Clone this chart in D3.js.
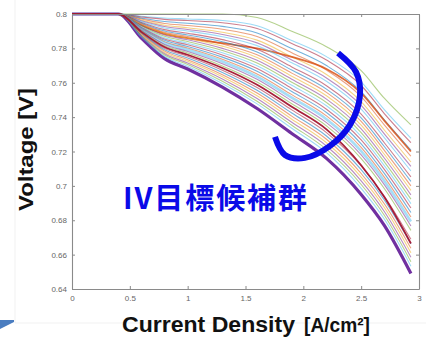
<!DOCTYPE html>
<html>
<head>
<meta charset="utf-8">
<script src="https://cdn.jsdelivr.net/npm/d3@7"></script>
<style>
  html, body { margin: 0; padding: 0; background: #fff; }
  svg { display: block; }
</style>
</head>
<body>
<div id="chart"></div>
<script>
// current density grid [A/cm2] shared by every IV curve
const currentDensity = [0, 0.4, 0.6, 0.8, 1.0, 1.3, 1.6, 1.9, 2.2, 2.5, 2.7, 2.93];

// voltages [V], top curve first, bottom (purple) curve last
const voltageCurves = [
  [0.8, 0.8, 0.8,    0.8,    0.8,    0.8,    0.798,  0.790,  0.781,  0.767,  0.751,  0.7355],
  [0.8, 0.8, 0.7987, 0.7977, 0.7971, 0.7962, 0.7932, 0.7846, 0.7752, 0.7605, 0.7443, 0.7277],
  [0.8, 0.8, 0.7983, 0.7969, 0.7962, 0.7949, 0.7916, 0.7829, 0.7732, 0.7584, 0.7421, 0.7251],
  [0.8, 0.8, 0.7976, 0.7956, 0.7946, 0.7928, 0.7890, 0.7799, 0.7700, 0.7548, 0.7384, 0.7208],
  [0.8, 0.8, 0.7971, 0.7945, 0.7933, 0.7911, 0.7869, 0.7775, 0.7674, 0.7519, 0.7355, 0.7173],
  [0.8, 0.8, 0.7965, 0.7935, 0.7920, 0.7894, 0.7848, 0.7751, 0.7648, 0.7490, 0.7325, 0.7139],
  [0.8, 0.8, 0.7961, 0.7927, 0.7910, 0.7881, 0.7832, 0.7733, 0.7628, 0.7468, 0.7303, 0.7113],
  [0.8, 0.8, 0.7935, 0.7885, 0.7860, 0.7830, 0.7800, 0.7750, 0.7680, 0.7540, 0.7380, 0.7200],
  [0.8, 0.8, 0.7957, 0.7919, 0.7901, 0.7868, 0.7816, 0.7716, 0.7609, 0.7447, 0.7281, 0.7087],
  [0.8, 0.8, 0.7951, 0.7909, 0.7888, 0.7851, 0.7795, 0.7692, 0.7583, 0.7418, 0.7251, 0.7052],
  [0.8, 0.8, 0.7947, 0.7901, 0.7878, 0.7839, 0.7779, 0.7674, 0.7563, 0.7396, 0.7229, 0.7026],
  [0.8, 0.8, 0.7943, 0.7893, 0.7869, 0.7826, 0.7763, 0.7656, 0.7544, 0.7375, 0.7207, 0.7000],
  [0.8, 0.8, 0.7938, 0.7886, 0.7859, 0.7813, 0.7747, 0.7638, 0.7524, 0.7353, 0.7184, 0.6974],
  [0.8, 0.8, 0.7934, 0.7878, 0.7850, 0.7800, 0.7731, 0.7620, 0.7505, 0.7332, 0.7162, 0.6948],
  [0.8, 0.8, 0.7930, 0.7870, 0.7840, 0.7788, 0.7715, 0.7603, 0.7485, 0.7310, 0.7140, 0.6923],
  [0.8, 0.8, 0.7926, 0.7862, 0.7830, 0.7775, 0.7699, 0.7585, 0.7466, 0.7288, 0.7118, 0.6897],
  [0.8, 0.8, 0.7922, 0.7854, 0.7821, 0.7762, 0.7683, 0.7567, 0.7446, 0.7267, 0.7096, 0.6871],
  [0.8, 0.8, 0.7917, 0.7847, 0.7811, 0.7749, 0.7667, 0.7549, 0.7427, 0.7245, 0.7073, 0.6845],
  [0.8, 0.8, 0.7913, 0.7839, 0.7802, 0.7737, 0.7651, 0.7531, 0.7407, 0.7224, 0.7051, 0.6819],
  [0.8, 0.8, 0.7909, 0.7831, 0.7792, 0.7724, 0.7636, 0.7513, 0.7388, 0.7202, 0.7029, 0.6793],
  [0.8, 0.8, 0.7905, 0.7823, 0.7782, 0.7711, 0.7620, 0.7495, 0.7368, 0.7180, 0.7007, 0.6767],
  [0.8, 0.8, 0.7901, 0.7815, 0.7773, 0.7698, 0.7604, 0.7478, 0.7349, 0.7159, 0.6985, 0.6741],
  [0.8, 0.8, 0.7896, 0.7808, 0.7763, 0.7686, 0.7588, 0.7460, 0.7329, 0.7120, 0.6935, 0.6665],
  [0.8, 0.8, 0.7892, 0.7800, 0.7754, 0.7673, 0.7572, 0.7442, 0.7310, 0.7116, 0.6940, 0.6689],
  [0.8, 0.8, 0.7888, 0.7792, 0.7744, 0.7660, 0.7556, 0.7424, 0.7290, 0.7094, 0.6918, 0.6663],
  [0.8, 0.8, 0.7884, 0.7784, 0.7734, 0.7647, 0.7540, 0.7406, 0.7271, 0.7072, 0.6896, 0.6637],
  [0.8, 0.8, 0.7880, 0.7776, 0.7725, 0.7635, 0.7524, 0.7388, 0.7251, 0.7051, 0.6874, 0.6611],
  [0.8, 0.8, 0.7875, 0.7769, 0.7715, 0.7622, 0.7508, 0.7370, 0.7232, 0.7029, 0.6851, 0.6585],
  [0.8, 0.8, 0.7871, 0.7761, 0.7706, 0.7609, 0.7492, 0.7353, 0.7212, 0.7008, 0.6829, 0.6559],
  [0.8, 0.8, 0.7867, 0.7753, 0.7696, 0.7596, 0.7477, 0.7335, 0.7193, 0.6986, 0.6807, 0.6533],
  [0.8, 0.8, 0.786,  0.774,  0.768,  0.7575, 0.745,  0.7305, 0.716,  0.695,  0.677,  0.649],
];

const xTicks = [0, 0.5, 1, 1.5, 2, 2.5, 3];
const xTickLabels = ['0', '0.5', '1', '1.5', '2', '2.5', '3'];
const yTicks = [0.64, 0.66, 0.68, 0.7, 0.72, 0.74, 0.76, 0.78, 0.8];
const yTickLabels = ['0.64', '0.66', '0.68', '0.7', '0.72', '0.74', '0.76', '0.78', '0.8'];

// hand-drawn bracket round the candidate bundle, in data units
const bracketPoints = [[2.30, 0.7773], [2.455, 0.7663], [2.49, 0.7529], [2.403, 0.7355],
  [2.231, 0.7233], [2.014, 0.7163], [1.841, 0.718], [1.755, 0.7285]];

const annotationText = 'IV目標候補群';
const xTitle = 'Current Density';
const xUnit = '[A/cm²]';
const yTitle = 'Voltage [V]';

// styling
const W = 426, H = 337;
const plot = {left: 72, right: 419, top: 14, bottom: 289};
const palette = ['#0072BD', '#D95319', '#EDB120', '#7E2F8E', '#77AC30', '#4DBEEE', '#A2142F'];
const emphasis = {
  7:  {color: '#D95319', width: 1.8, opacity: 0.85},
  19: {color: '#4DBEEE', width: 2.6, opacity: 0.5},
  22: {color: '#A2142F', width: 1.8, opacity: 0.95},
  30: {color: '#7030A0', width: 3.2, opacity: 1},
};
const axisColor = '#8a8a8a';
const tickFont = '"Liberation Sans", Arial, sans-serif';

const svg = d3.select('#chart').append('svg')
  .attr('width', W)
  .attr('height', H);

const xScale = d3.scaleLinear().domain([0, 3]).range([plot.left, plot.right]);
const yScale = d3.scaleLinear().domain([0.64, 0.8]).range([plot.bottom, plot.top]);

// faint frame of the pasted figure + cropped arrow
svg.append('line')
  .attr('x1', 15).attr('y1', 0).attr('x2', 15).attr('y2', 323)
  .attr('stroke', '#f1f1f1').attr('stroke-width', 1);
svg.append('line')
  .attr('x1', 15).attr('y1', 323).attr('x2', W).attr('y2', 323)
  .attr('stroke', '#f1f1f1').attr('stroke-width', 1);
svg.append('polygon')
  .attr('points', '0,320 14,320 14,322 0,329')
  .attr('fill', '#4a7dc0');

const line = d3.line()
  .x((d, i) => xScale(currentDensity[i]))
  .y(d => yScale(d))
  .curve(d3.curveMonotoneX);

const curves = voltageCurves.map((values, i) => {
  const e = emphasis[i];
  return {
    i, values,
    color: e ? e.color : palette[(i + 4) % palette.length],
    width: e ? e.width : 1.1,
    opacity: e ? e.opacity : 0.55,
  };
});

// purple first so the rest lie over its flat segment, dark red last
const drawOrder = [curves[30], ...curves.filter(c => c.i !== 30 && c.i !== 22), curves[22]];

const g = svg.append('g');

g.selectAll('.iv-curve')
  .data(drawOrder)
  .enter().append('path')
    .attr('class', 'iv-curve')
    .attr('d', d => line(d.values))
    .attr('fill', 'none')
    .attr('stroke', d => d.color)
    .attr('stroke-width', d => d.width)
    .attr('stroke-opacity', d => d.opacity)
    .attr('stroke-linejoin', 'round');

// MATLAB-ish box with inward ticks on all sides
function styleAxis(sel) {
  sel.select('.domain').attr('stroke', axisColor).attr('stroke-width', 1.1);
  sel.selectAll('.tick line').attr('stroke', axisColor);
  sel.selectAll('.tick text')
    .attr('fill', '#666')
    .style('font-family', tickFont)
    .style('font-size', '8px');
}

svg.append('g')
  .attr('transform', `translate(0,${plot.bottom})`)
  .call(d3.axisBottom(xScale).tickValues(xTicks)
    .tickFormat((d, i) => xTickLabels[i]).tickSizeInner(-3).tickSizeOuter(0).tickPadding(6))
  .call(styleAxis);

svg.append('g')
  .attr('transform', `translate(0,${plot.top})`)
  .call(d3.axisTop(xScale).tickValues(xTicks)
    .tickFormat('').tickSizeInner(-3).tickSizeOuter(0))
  .call(styleAxis);

svg.append('g')
  .attr('transform', `translate(${plot.left},0)`)
  .call(d3.axisLeft(yScale).tickValues(yTicks)
    .tickFormat((d, i) => yTickLabels[i]).tickSizeInner(-3).tickSizeOuter(0).tickPadding(5))
  .call(styleAxis);

svg.append('g')
  .attr('transform', `translate(${plot.right},0)`)
  .call(d3.axisRight(yScale).tickValues(yTicks)
    .tickFormat('').tickSizeInner(-3).tickSizeOuter(0))
  .call(styleAxis);

// axis titles
svg.append('text')
  .attr('x', 122)
  .attr('y', 332)
  .attr('textLength', 173)
  .attr('lengthAdjust', 'spacingAndGlyphs')
  .style('font-family', tickFont)
  .style('font-weight', 'bold')
  .style('font-size', '22px')
  .attr('fill', '#111')
  .text(xTitle);

svg.append('text')
  .attr('x', 304)
  .attr('y', 332)
  .attr('textLength', 66)
  .attr('lengthAdjust', 'spacingAndGlyphs')
  .style('font-family', tickFont)
  .style('font-weight', 'bold')
  .style('font-size', '21px')
  .attr('fill', '#111')
  .text(xUnit);

svg.append('text')
  .attr('transform', 'translate(33,211) rotate(-90)')
  .attr('textLength', 123)
  .attr('lengthAdjust', 'spacingAndGlyphs')
  .style('font-family', tickFont)
  .style('font-weight', 'bold')
  .style('font-size', '20px')
  .attr('fill', '#111')
  .text(yTitle);

// annotation
svg.append('path')
  .attr('d', d3.line()
    .x(d => xScale(d[0]))
    .y(d => yScale(d[1]))
    .curve(d3.curveCatmullRom)(bracketPoints))
  .attr('fill', 'none')
  .attr('stroke', '#0a0ae8')
  .attr('stroke-width', 6);

svg.append('text')
  .attr('x', 123)
  .attr('y', 209)
  .attr('textLength', 184)
  .style('font-family', '"Noto Sans CJK JP", sans-serif')
  .style('font-weight', 'bold')
  .style('font-size', '29px')
  .attr('fill', '#0a0ae8')
  .text(annotationText);
</script>
</body>
</html>
